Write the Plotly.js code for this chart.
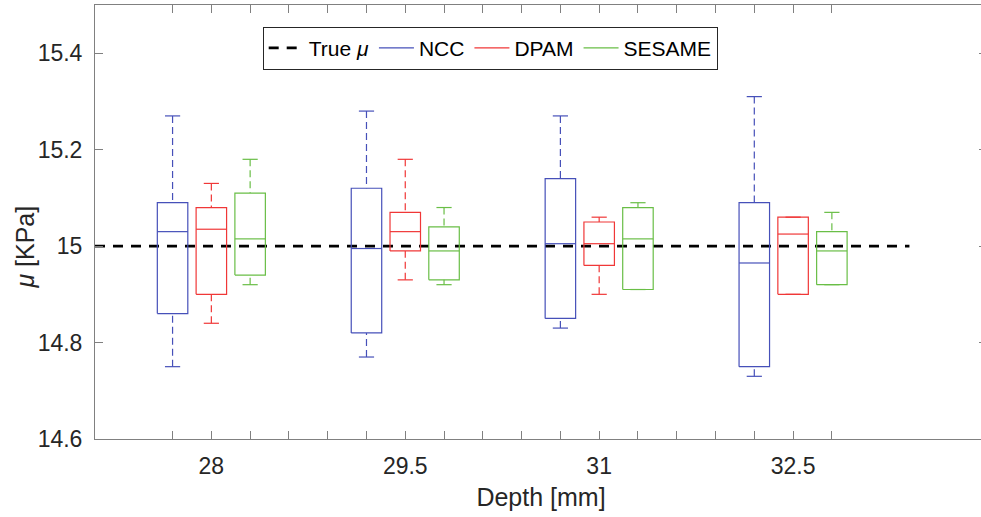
<!DOCTYPE html>
<html>
<head>
<meta charset="utf-8">
<script src="https://cdn.plot.ly/plotly-3.0.1.min.js"></script>
<style>
html,body{margin:0;padding:0;overflow:hidden;background:#fff;}
#chart{width:990px;height:517px;}
</style>
</head>
<body>
<div id="chart"></div>
<script>
// ---- data ----
const depthLabels = ['28', '29.5', '31', '32.5'];
const methods = ['NCC', 'DPAM', 'SESAME'];
const trueMu = 15;

const nccUpper = [15.27, 15.28, 15.27, 15.31];
const nccQ3    = [15.09, 15.12, 15.14, 15.09];
const nccMed   = [15.03, 14.995, 15.005, 14.965];
const nccQ1    = [14.86, 14.82, 14.85, 14.75];
const nccLower = [14.75, 14.77, 14.83, 14.73];

const dpamUpper = [15.13, 15.18, 15.06, 15.06];
const dpamQ3    = [15.08, 15.07, 15.05, 15.06];
const dpamMed   = [15.035, 15.03, 15.005, 15.025];
const dpamQ1    = [14.90, 14.99, 14.96, 14.90];
const dpamLower = [14.84, 14.93, 14.90, 14.90];

const sesUpper = [15.18, 15.08, 15.09, 15.07];
const sesQ3    = [15.11, 15.04, 15.08, 15.03];
const sesMed   = [15.015, 14.99, 15.015, 14.99];
const sesQ1    = [14.94, 14.93, 14.91, 14.92];
const sesLower = [14.92, 14.92, 14.91, 14.92];

// ---- styles ----
const colors = ['rgb(70,80,185)', 'rgb(240,55,55)', 'rgb(105,190,70)'];
const stats = [
  {up: nccUpper, q3: nccQ3, med: nccMed, q1: nccQ1, lo: nccLower},
  {up: dpamUpper, q3: dpamQ3, med: dpamMed, q1: dpamQ1, lo: dpamLower},
  {up: sesUpper, q3: sesQ3, med: sesMed, q1: sesQ1, lo: sesLower}
];
const halfW = 0.393, capHalf = 0.196;
const groupStride = 5;
function pos(g, m) { return g * groupStride + m + 1; }

const traces = [];
traces.push({
  x: [-1, 20], y: [trueMu, trueMu], mode: 'lines', name: 'True <i>μ</i>',
  line: {color: '#000', width: 2.6, dash: '10px,8px'}, hoverinfo: 'skip'
});

methods.forEach((name, m) => {
  const s = stats[m];
  const bx = [], by = [], wx = [], wy = [], cx = [], cy = [];
  depthLabels.forEach((d, g) => {
    const p = pos(g, m);
    bx.push(p - halfW, p + halfW, p + halfW, p - halfW, p - halfW, null);
    by.push(s.q1[g], s.q1[g], s.q3[g], s.q3[g], s.q1[g], null);
    bx.push(p - halfW, p + halfW, null);
    by.push(s.med[g], s.med[g], null);
    wx.push(p, p, null, p, p, null);
    wy.push(s.up[g], s.q3[g], null, s.lo[g], s.q1[g], null);
    cx.push(p - capHalf, p + capHalf, null, p - capHalf, p + capHalf, null);
    cy.push(s.up[g], s.up[g], null, s.lo[g], s.lo[g], null);
  });
  traces.push({x: wx, y: wy, mode: 'lines', showlegend: false, hoverinfo: 'skip',
    line: {color: colors[m], width: 1.2, dash: '7px,4px'}});
  traces.push({x: cx, y: cy, mode: 'lines', showlegend: false, hoverinfo: 'skip',
    line: {color: colors[m], width: 1.2}});
  traces.push({x: bx, y: by, mode: 'lines', name: name, hoverinfo: 'skip',
    line: {color: colors[m], width: 1.2}});
});

const tickvals = [], ticktext = [];
depthLabels.forEach((d, g) => {
  methods.forEach((mm, m) => {
    tickvals.push(pos(g, m));
    ticktext.push(m === 1 ? d : '');
  });
  if (g < depthLabels.length - 1) {
    tickvals.push(pos(g, 3), pos(g, 4));
    ticktext.push('', '');
  }
});

const fam = '"Liberation Sans", Arial, sans-serif';
const tickFont = {family: fam, size: 23, color: '#262626'};
const titleFont = {family: fam, size: 25, color: '#262626'};
const layout = {
  width: 990, height: 517,
  margin: {l: 95, r: 3, t: 5, b: 78, pad: 0},
  paper_bgcolor: '#fff', plot_bgcolor: '#fff',
  font: tickFont,
  showlegend: true,
  legend: {
    orientation: 'h', x: 0.188, y: 0.95, xanchor: 'left', yanchor: 'top',
    bgcolor: '#fff', bordercolor: '#262626', borderwidth: 1,
    font: {family: fam, size: 21, color: '#000'},
    traceorder: 'normal', itemwidth: 35
  },
  xaxis: {
    range: [-1, 22], showgrid: false, zeroline: false,
    showline: true, linecolor: '#808080', linewidth: 1, mirror: 'ticks',
    ticks: 'inside', ticklen: 8, tickcolor: '#808080', tickwidth: 1,
    tickmode: 'array', tickvals: tickvals, ticktext: ticktext,
    ticklabelstandoff: 6,
    tickfont: tickFont,
    title: {text: 'Depth [mm]', font: titleFont, standoff: 10}
  },
  yaxis: {
    range: [14.6, 15.5], showgrid: false, zeroline: false,
    showline: true, linecolor: '#808080', linewidth: 1, mirror: 'ticks',
    ticks: 'inside', ticklen: 8, tickcolor: '#808080', tickwidth: 1,
    tickmode: 'array', tickvals: [14.6, 14.8, 15, 15.2, 15.4],
    ticktext: ['14.6', '14.8', '15', '15.2', '15.4'],
    ticklabelstandoff: 7,
    tickfont: tickFont
  },
  annotations: [{
    text: '<i>μ</i> [KPa]', xref: 'paper', yref: 'paper',
    x: -0.078, y: 0.442, xanchor: 'center', yanchor: 'middle',
    textangle: -90, showarrow: false, font: titleFont
  }]
};
Plotly.newPlot('chart', traces, layout, {displayModeBar: false, staticPlot: true});
</script>
</body>
</html>
